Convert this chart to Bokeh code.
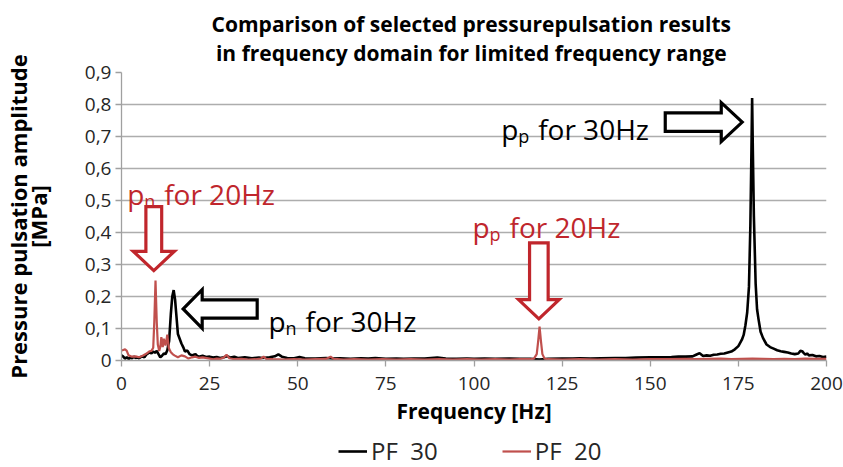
from bokeh.plotting import figure
from bokeh.layouts import column
from bokeh.models import (Legend, LegendItem, Title, Label, FixedTicker,
                          CustomJSTickFormatter, Range1d)
from bokeh.embed import file_html
from bokeh.resources import INLINE

# ---------------- data ----------------
pf30_freq = [0, 0.5, 1, 1.5, 2, 2.5, 3, 3.5, 4, 4.5, 5, 5.5, 6, 6.5, 7, 7.5, 8, 8.5, 9, 9.5,
             10, 10.5, 11, 11.5, 12, 12.5, 13, 13.5, 14, 14.4, 14.8, 15.2, 15.5, 16, 16.5, 17,
             17.5, 18, 18.7, 19.3, 20, 20.5, 21, 21.5, 22, 23, 24, 25, 26, 27, 28, 29, 30, 31,
             32, 33, 35, 37, 39, 40, 42, 43.5, 44.5, 45.5, 47, 49, 50.5, 52, 55, 58, 60, 62, 65,
             68, 70, 72, 75, 78, 80, 83, 86, 89.6, 92, 95, 98, 100, 103, 106, 110, 113, 116,
             117.5, 118.5, 119.5, 121, 125, 128, 130, 133, 136, 140, 143, 146, 150, 153, 156,
             158, 160, 162, 163, 164, 165, 166, 167, 168, 169, 170, 171, 172, 173, 174, 175,
             176, 176.5, 177, 177.5, 178, 178.4, 178.7, 178.9, 179.1, 179.4, 179.9, 180.3,
             180.7, 181.3, 182, 183, 184, 185, 186, 187, 188, 189, 190, 191, 192, 192.6, 193.1,
             193.5, 194, 194.5, 195, 196, 197, 198, 199, 200]
pf30_amp = [0.016, 0.012, 0.006, 0.010, 0.005, 0.009, 0.007, 0.012, 0.008, 0.010, 0.007, 0.011,
            0.013, 0.010, 0.018, 0.022, 0.026, 0.022, 0.028, 0.024, 0.030, 0.020, 0.010, 0.015,
            0.022, 0.020, 0.032, 0.060, 0.146, 0.200, 0.220, 0.190, 0.150, 0.083, 0.068, 0.053,
            0.042, 0.028, 0.031, 0.020, 0.016, 0.018, 0.020, 0.014, 0.012, 0.015, 0.011, 0.012,
            0.009, 0.011, 0.008, 0.010, 0.013, 0.009, 0.012, 0.008, 0.010, 0.007, 0.009, 0.008,
            0.010, 0.013, 0.019, 0.012, 0.008, 0.007, 0.011, 0.007, 0.006, 0.008, 0.006, 0.007,
            0.005, 0.007, 0.006, 0.008, 0.005, 0.006, 0.005, 0.006, 0.006, 0.009, 0.006, 0.005,
            0.006, 0.005, 0.006, 0.005, 0.006, 0.005, 0.005, 0.004, 0.003, 0.004, 0.005, 0.006,
            0.006, 0.007, 0.006, 0.007, 0.008, 0.008, 0.009, 0.010, 0.010, 0.011, 0.012, 0.012,
            0.013, 0.018, 0.023, 0.014, 0.016, 0.015, 0.018, 0.019, 0.021, 0.022, 0.025, 0.028,
            0.035, 0.045, 0.065, 0.080, 0.110, 0.150, 0.230, 0.420, 0.650, 0.820, 0.660, 0.450,
            0.240, 0.160, 0.130, 0.090, 0.070, 0.050, 0.042, 0.037, 0.032, 0.029, 0.027, 0.025,
            0.022, 0.020, 0.022, 0.030, 0.029, 0.024, 0.018, 0.022, 0.016, 0.017, 0.013, 0.014,
            0.011, 0.012]

pf20_freq = [0, 0.5, 1, 1.5, 2, 3, 4, 5, 6, 7, 8, 8.5, 9, 9.3, 9.65, 10, 10.3, 10.7, 11, 11.3,
             11.7, 12, 12.5, 13, 13.4, 13.8, 14, 14.5, 15, 16, 17, 18, 19, 20, 21, 22, 23, 25,
             26, 27, 28, 29, 29.8, 30.6, 32, 34, 36, 38, 39.5, 40.3, 41, 43, 46, 49, 52, 55, 58,
             59.3, 60.2, 63, 66, 70, 74, 78, 82, 86, 90, 94, 98, 102, 106, 110, 113, 116, 117,
             117.8, 118.2, 118.6, 119, 119.4, 120, 121, 125, 130, 135, 140, 145, 150, 155, 160,
             163, 166, 170, 173, 176, 179, 182, 185, 188, 191, 194, 197, 200]
pf20_amp = [0.031, 0.033, 0.035, 0.030, 0.016, 0.012, 0.013, 0.010, 0.015, 0.021, 0.029, 0.030,
            0.040, 0.120, 0.250, 0.120, 0.050, 0.030, 0.042, 0.073, 0.042, 0.068, 0.047, 0.081,
            0.040, 0.030, 0.026, 0.020, 0.016, 0.010, 0.016, 0.013, 0.006, 0.010, 0.012, 0.008,
            0.010, 0.006, 0.004, 0.006, 0.005, 0.009, 0.018, 0.007, 0.004, 0.005, 0.003, 0.004,
            0.006, 0.012, 0.005, 0.004, 0.003, 0.004, 0.003, 0.004, 0.005, 0.012, 0.005, 0.003,
            0.004, 0.003, 0.004, 0.003, 0.004, 0.003, 0.004, 0.003, 0.004, 0.003, 0.004, 0.003,
            0.004, 0.004, 0.006, 0.020, 0.060, 0.106, 0.060, 0.020, 0.006, 0.004, 0.003, 0.004,
            0.003, 0.004, 0.003, 0.004, 0.004, 0.005, 0.004, 0.005, 0.006, 0.004, 0.005, 0.006,
            0.005, 0.004, 0.005, 0.004, 0.006, 0.005, 0.005]

x_ticks = [0, 25, 50, 75, 100, 125, 150, 175, 200]
y_ticks = [0, 0.1, 0.2, 0.3, 0.4, 0.5, 0.6, 0.7, 0.8, 0.9]

series_names = ["PF  30", "PF  20"]
title_lines = ["Comparison of  selected pressurepulsation results",
               "in frequency domain for limited  frequency range"]

RED_TXT = "#C0262C"
# annotation texts: (main, subscript, rest, color, x, y baseline)
annot_texts = [
    ("p", "n", "for 20Hz", RED_TXT, 1.6, 0.521),
    ("p", "p", "for 20Hz", RED_TXT, 99.6, 0.417),
    ("p", "n", "for 30Hz", "#000000", 41.7, 0.122),
    ("p", "p", "for 30Hz", "#000000", 107.7, 0.725),
]
# block arrows: tip (x, y), direction, length, shaft half, head half, head length (px)
annot_arrows = [
    (9.16, 0.281, "down", 64, 7.9, 20.6, 19.3, RED_TXT),
    (17.5, 0.161, "left", 74, 9.2, 19.3, 19.0, "#000000"),
    (118.4, 0.130, "down", 76, 9.3, 20.3, 19.3, RED_TXT),
    (176.1, 0.745, "right", 77, 9.2, 19.5, 21.0, "#000000"),
]

# ---------------- figure ----------------
W, H_MAIN, H_LEG = 843, 428, 39
LB, RB, TB = 121, 17, 72
FRAME_H = 288
BB = H_MAIN - TB - FRAME_H
X0, X1, Y0, Y1 = 0, 200, 0, 0.9
FX = (W - LB - RB) / (X1 - X0)    # px per Hz
FY = FRAME_H / (Y1 - Y0)          # px per MPa

FONT = "Open Sans"

p = figure(width=W, height=H_MAIN, output_backend="svg", toolbar_location=None,
           x_range=Range1d(X0, X1), y_range=Range1d(Y0, Y1), title=None,
           min_border_left=LB, min_border_right=RB, min_border_top=TB,
           min_border_bottom=BB)
p.outline_line_color = None
p.background_fill_color = "white"
p.border_fill_color = "white"

p.add_layout(Title(text="\n".join(title_lines), align="center", text_align="center",
                   text_font=FONT, text_font_size="21px", text_font_style="bold",
                   text_color="#000000", standoff=10, text_line_height=1.05), "above")

# axes
p.xaxis.ticker = FixedTicker(ticks=x_ticks)
p.yaxis.ticker = FixedTicker(ticks=y_ticks)
p.yaxis.formatter = CustomJSTickFormatter(
    code="return tick === 0 ? '0' : tick.toFixed(1).replace('.', ',');")
for ax in (p.xaxis[0], p.yaxis[0]):
    ax.axis_line_color = "#A0A0A0"
    ax.axis_line_width = 1.3
    ax.major_tick_line_color = "#A0A0A0"
    ax.major_tick_line_width = 1.3
    ax.major_tick_in = 0
    ax.major_tick_out = 6
    ax.minor_tick_line_color = None
    ax.major_label_text_font = FONT
    ax.major_label_text_font_size = "19px"
    ax.major_label_text_color = "#262626"
    ax.axis_label_text_font = FONT
    ax.axis_label_text_font_style = "bold"
    ax.axis_label_text_color = "#000000"
p.xaxis.axis_label = "Frequency [Hz]"
p.xaxis.axis_label_text_font_size = "21px"
p.yaxis.axis_label = "Pressure pulsation amplitude\n[MPa]"
p.yaxis.axis_label_text_font_size = "22px"
p.yaxis.axis_label_text_line_height = 0.65
p.xaxis.major_label_standoff = 10
p.xaxis.axis_label_standoff = 4
p.yaxis.major_label_standoff = 4
p.yaxis.axis_label_standoff = 29

p.xgrid.grid_line_color = None
p.ygrid.grid_line_color = "#ADADAD"
p.ygrid.grid_line_width = 1.3

LINE30 = dict(line_color="#000000", line_width=2.6)
LINE20 = dict(line_color="#C0504D", line_width=2.2)
r30 = p.line(pf30_freq, pf30_amp, **LINE30)
r20 = p.line(pf20_freq, pf20_amp, **LINE20)

# block arrows
def block_arrow(tx, ty, direction, length, sh, hh, hl):
    pts = [(0, 0), (hl, hh), (hl, sh), (length, sh), (length, -sh), (hl, -sh), (hl, -hh)]
    xs, ys = [], []
    for u, w in pts:
        if direction == "down":
            dx, dy = w, u
        elif direction == "left":
            dx, dy = u, w
        else:  # right
            dx, dy = -u, w
        xs.append(tx + dx / FX)
        ys.append(ty + dy / FY)
    return xs, ys

for tx, ty, d, L, sh, hh, hl, col in annot_arrows:
    xs, ys = block_arrow(tx, ty, d, L, sh, hh, hl)
    p.patch(xs, ys, fill_color="white", line_color=col, line_width=3.2,
            line_join="miter")

for main, sub, rest, col, x, y in annot_texts:
    p.add_layout(Label(x=x, y=y, text=main, text_font=FONT, text_font_size="28px",
                       text_color=col, text_baseline="alphabetic"))
    p.add_layout(Label(x=x, y=y, x_offset=17, y_offset=-7, text=sub, text_font=FONT,
                       text_font_size="18px", text_color=col, text_baseline="alphabetic"))
    p.add_layout(Label(x=x, y=y, x_offset=37, text=rest, text_font=FONT,
                       text_font_size="28px", text_color=col, text_baseline="alphabetic"))

# ---------------- legend strip ----------------
pl = figure(width=W, height=H_LEG, output_backend="svg", toolbar_location=None,
            x_range=Range1d(0, 1), y_range=Range1d(0, 1), title=None,
            x_axis_location=None, y_axis_location=None,
            min_border_left=LB, min_border_right=RB, min_border_top=0, min_border_bottom=0)
pl.outline_line_color = None
pl.xgrid.grid_line_color = None
pl.ygrid.grid_line_color = None
# off-range stand-ins that only serve the legend swatches
l30 = pl.line([-2, -1], [-2, -1], **LINE30)
l20 = pl.line([-2, -1], [-2, -1], **LINE20)
legend = Legend(items=[LegendItem(label=series_names[0], renderers=[l30]),
                       LegendItem(label=series_names[1], renderers=[l20])],
                orientation="horizontal", location=(217, 0),
                label_text_font=FONT, label_text_font_size="24px",
                label_text_color="#262626",
                glyph_width=29, glyph_height=20, label_standoff=4, spacing=64,
                border_line_color=None, background_fill_alpha=0, padding=0, margin=0)
pl.add_layout(legend, "center")

layout = column(p, pl, spacing=0)
open("out.html", "w").write(file_html(layout, INLINE))
